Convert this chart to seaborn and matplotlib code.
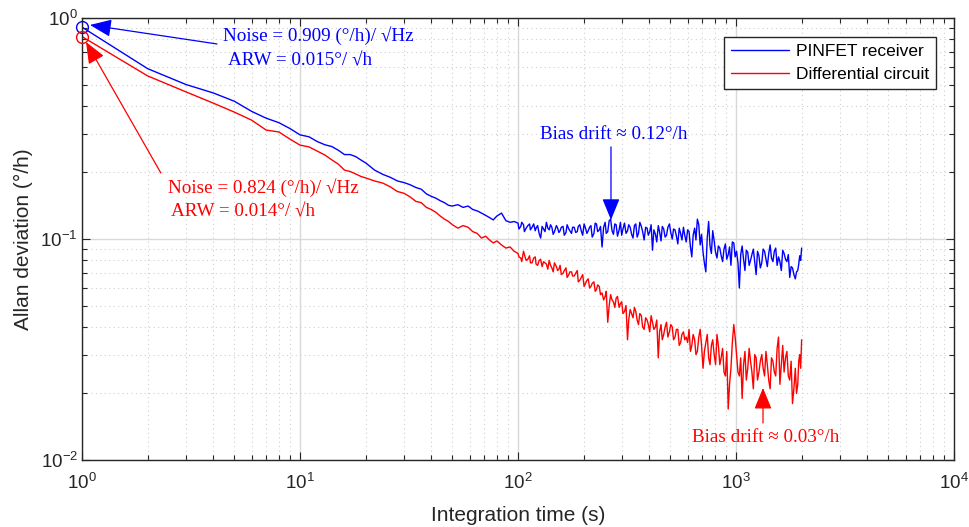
import numpy as np
import pandas as pd
import matplotlib
matplotlib.use("Agg")
import matplotlib.pyplot as plt
import seaborn as sns
from matplotlib.ticker import LogLocator, NullFormatter

# ---------------- data ----------------
tau_s = [1, 2, 3, 4, 5, 6, 7, 8, 9, 10,
         11, 12, 13, 14, 15, 16, 17, 18, 19, 20,
         22, 24, 26, 28, 30, 32, 34, 36, 38, 40, 42, 44, 46, 48,
         50, 53, 56, 59, 62, 65, 68, 71, 74, 77, 80, 84, 88, 92, 96,
         100, 103, 106, 109, 113, 116, 120, 123, 127, 131,
         135, 139, 143, 147, 152, 156, 161, 166, 171, 176,
         181, 187, 192, 198, 204, 210, 216, 223, 229, 236,
         243, 251, 258, 266, 274, 282, 291, 299, 308, 318,
         327, 337, 347, 357, 368, 379, 391, 402, 414, 427,
         440, 453, 466, 480, 495, 510, 525, 541, 557, 574,
         591, 609, 627, 646, 665, 685, 706, 727, 749, 771,
         794, 818, 843, 868, 894, 921, 948, 977, 1006, 1036,
         1067, 1099, 1132, 1166, 1201, 1237, 1274, 1313, 1352, 1392,
         1434, 1477, 1521, 1567, 1614, 1662, 1712, 1764, 1816, 1871,
         1920, 1960, 2000]

pinfet_dev = [0.909, 0.590, 0.500, 0.458, 0.420, 0.378, 0.352, 0.336, 0.316, 0.296,
              0.290, 0.276, 0.267, 0.262, 0.252, 0.241, 0.241, 0.236, 0.228, 0.221,
              0.205, 0.196, 0.190, 0.183, 0.180, 0.176, 0.171, 0.168, 0.160, 0.156, 0.153, 0.149, 0.146, 0.142,
              0.141, 0.143, 0.139, 0.141, 0.136, 0.134, 0.131, 0.128, 0.125, 0.122, 0.127, 0.131, 0.121, 0.119, 0.120,
              0.118, 0.114, 0.116, 0.112, 0.117, 0.113, 0.109, 0.115, 0.101, 0.111,
              0.119, 0.110, 0.113, 0.108, 0.112, 0.109, 0.114, 0.107, 0.111, 0.106,
              0.113, 0.108, 0.116, 0.104, 0.112, 0.109, 0.115, 0.106, 0.117, 0.110,
              0.092, 0.119, 0.108, 0.123, 0.105, 0.116, 0.110, 0.104, 0.118, 0.109,
              0.113, 0.101, 0.117, 0.106, 0.114, 0.099, 0.112, 0.108, 0.089, 0.105,
              0.115, 0.098, 0.111, 0.104, 0.117, 0.100, 0.110, 0.095, 0.106, 0.113,
              0.097, 0.108, 0.083, 0.112, 0.123, 0.094, 0.087, 0.071, 0.120, 0.086,
              0.098, 0.082, 0.091, 0.079, 0.095, 0.085, 0.076, 0.096, 0.088, 0.060,
              0.093, 0.072, 0.087, 0.080, 0.090, 0.069, 0.084, 0.078, 0.088, 0.075,
              0.094, 0.079, 0.091, 0.083, 0.072, 0.086, 0.079, 0.067, 0.074, 0.066,
              0.072, 0.084, 0.091]

diff_dev = [0.824, 0.547, 0.463, 0.412, 0.375, 0.345, 0.311, 0.305, 0.283, 0.266,
            0.261, 0.250, 0.240, 0.228, 0.218, 0.205, 0.202, 0.197, 0.192, 0.189,
            0.183, 0.179, 0.172, 0.164, 0.161, 0.155, 0.148, 0.146, 0.139, 0.136, 0.132, 0.127, 0.123, 0.120,
            0.116, 0.112, 0.115, 0.113, 0.108, 0.106, 0.101, 0.103, 0.099, 0.096, 0.098, 0.094, 0.091, 0.092, 0.088,
            0.086, 0.082, 0.088, 0.080, 0.084, 0.078, 0.083, 0.076, 0.081, 0.079,
            0.077, 0.080, 0.074, 0.078, 0.072, 0.076, 0.070, 0.074, 0.069, 0.071,
            0.068, 0.072, 0.065, 0.069, 0.063, 0.066, 0.061, 0.064, 0.059, 0.061,
            0.057, 0.055, 0.042, 0.056, 0.052, 0.054, 0.049, 0.052, 0.047, 0.035,
            0.048, 0.044, 0.047, 0.041, 0.045, 0.039, 0.043, 0.038, 0.042, 0.040,
            0.029, 0.041, 0.037, 0.042, 0.038, 0.040, 0.036, 0.039, 0.034, 0.038,
            0.036, 0.039, 0.033, 0.035, 0.031, 0.039, 0.026, 0.034, 0.029, 0.033,
            0.030, 0.037, 0.027, 0.032, 0.024, 0.017, 0.026, 0.041, 0.030, 0.024,
            0.019, 0.031, 0.026, 0.028, 0.021, 0.029, 0.025, 0.030, 0.024, 0.027,
            0.021, 0.028, 0.024, 0.036, 0.027, 0.025, 0.031, 0.023, 0.018, 0.026,
            0.022, 0.030, 0.035]

# additional long-tau samples (between the ones above)
tau_extra = [101, 104, 107, 111, 114, 118, 121, 125, 129, 133,
             137, 141, 145, 150, 154, 158, 163, 168, 173, 178,
             184, 189, 195, 201, 207, 213, 219, 226, 232, 239,
             247, 254, 262, 270, 278, 286, 295, 303, 313, 322,
             332, 342, 352, 362, 373, 385, 396, 408, 420, 433,
             446, 459, 473, 487, 502, 517, 533, 549, 565, 582,
             600, 618, 636, 655, 675, 695, 716, 738, 760, 782,
             806, 830, 855, 881, 907, 934, 962, 991, 1021, 1051,
             1083, 1115, 1149, 1183, 1219, 1255, 1293, 1332, 1372, 1413,
             1455, 1499, 1544, 1590, 1638, 1687, 1738, 1790, 1843, 1895,
             1940, 1980]

pinfet_extra = [0.111, 0.119, 0.108, 0.115, 0.110, 0.117, 0.112, 0.106, 0.114, 0.108,
                0.112, 0.116, 0.105, 0.115, 0.107, 0.113, 0.104, 0.116, 0.109, 0.113,
                0.107, 0.114, 0.109, 0.117, 0.106, 0.113, 0.102, 0.118, 0.108, 0.114,
                0.113, 0.106, 0.121, 0.109, 0.117, 0.103, 0.119, 0.111, 0.106, 0.116,
                0.105, 0.115, 0.102, 0.119, 0.108, 0.113, 0.104, 0.116, 0.110, 0.097,
                0.108, 0.114, 0.102, 0.113, 0.107, 0.111, 0.103, 0.112, 0.099, 0.104,
                0.110, 0.092, 0.104, 0.099, 0.116, 0.105, 0.078, 0.101, 0.093, 0.109,
                0.087, 0.093, 0.084, 0.090, 0.081, 0.092, 0.097, 0.083, 0.078, 0.085,
                0.081, 0.089, 0.076, 0.085, 0.079, 0.088, 0.074, 0.090, 0.081, 0.086,
                0.082, 0.088, 0.076, 0.079, 0.089, 0.081, 0.085, 0.075, 0.069, 0.071,
                0.077, 0.080]

diff_extra = [0.083, 0.079, 0.085, 0.081, 0.078, 0.082, 0.077, 0.080, 0.075, 0.078,
              0.073, 0.076, 0.071, 0.075, 0.073, 0.069, 0.072, 0.067, 0.071, 0.068,
              0.070, 0.064, 0.067, 0.061, 0.065, 0.060, 0.063, 0.058, 0.062, 0.056,
              0.053, 0.058, 0.050, 0.053, 0.049, 0.055, 0.051, 0.046, 0.050, 0.043,
              0.046, 0.049, 0.043, 0.046, 0.040, 0.044, 0.041, 0.045, 0.039, 0.043,
              0.038, 0.035, 0.040, 0.036, 0.041, 0.035, 0.039, 0.033, 0.037, 0.035,
              0.034, 0.031, 0.037, 0.030, 0.036, 0.033, 0.031, 0.037, 0.027, 0.035,
              0.027, 0.033, 0.029, 0.025, 0.031, 0.022, 0.034, 0.036, 0.025, 0.029,
              0.027, 0.023, 0.032, 0.025, 0.030, 0.023, 0.028, 0.026, 0.031, 0.023,
              0.029, 0.025, 0.032, 0.022, 0.033, 0.029, 0.024, 0.028, 0.021, 0.020,
              0.028, 0.026]

series_names = ["PINFET receiver", "Differential circuit"]
series_colors = ["#0000ff", "#ff0000"]

assert len(tau_s) == len(pinfet_dev) == len(diff_dev)
assert len(tau_extra) == len(pinfet_extra) == len(diff_extra)

df = pd.concat([
    pd.DataFrame({"tau": tau_s + tau_extra, "adev": pinfet_dev + pinfet_extra, "series": series_names[0]}),
    pd.DataFrame({"tau": tau_s + tau_extra, "adev": diff_dev + diff_extra, "series": series_names[1]}),
], ignore_index=True)

# ---------------- figure ----------------
sns.set_style("ticks")
plt.rcParams["font.family"] = ["Liberation Sans", "DejaVu Sans"]
plt.rcParams["axes.unicode_minus"] = False
SERIF = ["Liberation Serif", "DejaVu Serif"]
DARK = "#262626"

fig = plt.figure(figsize=(9.69, 5.27), dpi=100)
ax = fig.add_axes([82 / 969, 67 / 527, 872 / 969, 442 / 527])

sns.lineplot(data=df, x="tau", y="adev", hue="series", hue_order=series_names,
             palette=dict(zip(series_names, series_colors)), estimator=None,
             sort=True, linewidth=1.0, ax=ax)

# circles at tau = 1 s
ax.plot(tau_s[0], pinfet_dev[0], "o", ms=8.5, mfc="none", mec=series_colors[0], mew=1.0,
        label="_nolegend_", clip_on=False, zorder=5)
ax.plot(tau_s[0], diff_dev[0], "o", ms=8.5, mfc="none", mec=series_colors[1], mew=1.0,
        label="_nolegend_", clip_on=False, zorder=5)

ax.set_xscale("log")
ax.set_yscale("log")
ax.set_xlim(1, 1e4)
ax.set_ylim(1e-2, 1)

ax.xaxis.set_major_locator(LogLocator(base=10, numticks=10))
ax.xaxis.set_minor_locator(LogLocator(base=10, subs=np.arange(2, 10), numticks=20))
ax.yaxis.set_major_locator(LogLocator(base=10, numticks=10))
ax.yaxis.set_minor_locator(LogLocator(base=10, subs=np.arange(2, 10), numticks=20))
ax.xaxis.set_minor_formatter(NullFormatter())
ax.yaxis.set_minor_formatter(NullFormatter())

ax.grid(which="major", color="#d9d9d9", linestyle="-", linewidth=1.0)
ax.grid(which="minor", color="#cfcfcf", linestyle=(0, (1, 3)), linewidth=0.8)
ax.set_axisbelow(True)

for s in ax.spines.values():
    s.set_visible(True)
    s.set_color(DARK)
    s.set_linewidth(1.0)

ax.tick_params(which="both", direction="in", top=True, right=True, colors=DARK,
               labelsize=13.5, labelcolor=DARK)
ax.tick_params(which="major", length=5.8, width=0.8)
ax.tick_params(which="minor", length=3.6, width=0.8)
ax.tick_params(axis="x", which="major", pad=9)
ax.tick_params(axis="y", which="major", pad=3)

ax.set_xlabel("Integration time (s)", fontsize=15, color=DARK, labelpad=10)
ax.set_ylabel("Allan deviation (°/h)", fontsize=15, color=DARK, labelpad=5)

# legend
handles, labels = ax.get_legend_handles_labels()
leg = ax.legend(handles[:2], labels[:2], loc="upper right",
                bbox_to_anchor=(1 - 18 / 872, 1 - 19 / 442), borderaxespad=0,
                fontsize=12.5, frameon=True, fancybox=False, framealpha=1,
                edgecolor=DARK, handlelength=3.3, handletextpad=0.4,
                labelspacing=0.42, borderpad=0.42, title=None)
leg.get_frame().set_linewidth(1.0)
for t in leg.get_texts():
    t.set_color("#000000")

# annotations
arrow_kw = dict(arrowstyle="-|>,head_length=1.1,head_width=0.45", mutation_scale=12,
                shrinkA=0, shrinkB=0, lw=0.9)
FS = 13.8

ax.annotate("", xy=(1.088, 0.930), xytext=(4.16, 0.763),
            arrowprops=dict(color=series_colors[0], **arrow_kw))
ax.text(4.43, 0.829, "Noise = 0.909 (°/h)/ √Hz", color=series_colors[0],
        family=SERIF, fontsize=FS, ha="left", va="center")
ax.text(4.67, 0.639, "ARW = 0.015°/ √h", color=series_colors[0],
        family=SERIF, fontsize=FS, ha="left", va="center")

ax.annotate("", xy=(1.043, 0.779), xytext=(2.30, 0.199),
            arrowprops=dict(color=series_colors[1], **arrow_kw))
ax.text(2.48, 0.170, "Noise = 0.824 (°/h)/ √Hz", color=series_colors[1],
        family=SERIF, fontsize=FS, ha="left", va="center")
ax.text(2.56, 0.132, "ARW = 0.014°/ √h", color=series_colors[1],
        family=SERIF, fontsize=FS, ha="left", va="center")

ax.annotate("", xy=(267, 0.122), xytext=(267, 0.261),
            arrowprops=dict(color=series_colors[0], **arrow_kw))
ax.text(275, 0.296, "Bias drift ≈ 0.12°/h", color=series_colors[0],
        family=SERIF, fontsize=FS, ha="center", va="center")

ax.annotate("", xy=(1330, 0.0212), xytext=(1330, 0.0147),
            arrowprops=dict(color=series_colors[1], **arrow_kw))
ax.text(1373, 0.0127, "Bias drift ≈ 0.03°/h", color=series_colors[1],
        family=SERIF, fontsize=FS, ha="center", va="center")

fig.savefig("out.png", dpi=100, facecolor="white")
